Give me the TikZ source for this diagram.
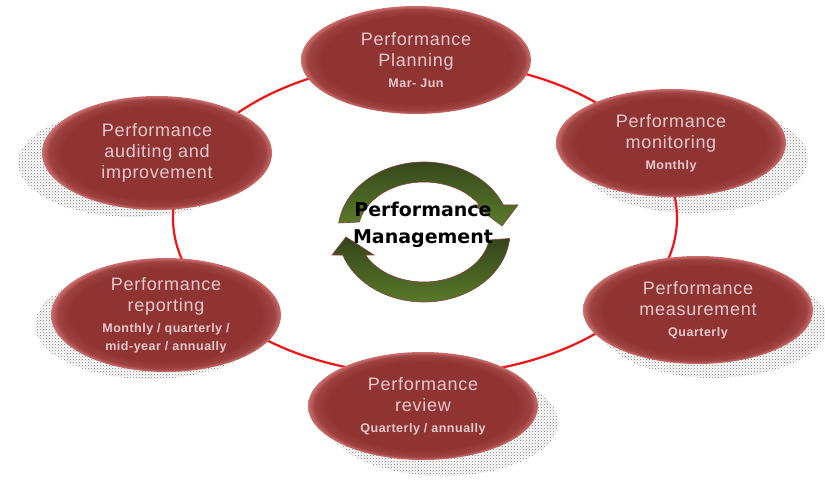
\documentclass[tikz,border=0pt]{standalone}
\usepackage{fontspec}
\usetikzlibrary{shapes.geometric,patterns,backgrounds}
\setmainfont{Liberation Sans}
\newfontfamily\stagefont[LetterSpace=4]{Liberation Sans}
\newfontfamily\hubfont{DejaVu Sans}

\definecolor{stagefill}{HTML}{8F3433}
\definecolor{stagerim}{HTML}{CC6E6C}
\definecolor{stagetext}{HTML}{E8CACA}
\definecolor{ringred}{HTML}{F01414}
\definecolor{olivedark}{HTML}{34441B}
\definecolor{olivelight}{HTML}{5A7C2A}
\definecolor{arrowedge}{HTML}{8A3C3C}

% bevelled look of the stage ellipses
\pgfdeclareradialshading{stagebevel}{\pgfpoint{0bp}{0bp}}{color(0bp)=(stagefill); color(20.5bp)=(stagefill); color(23.5bp)=(stagefill!75!stagerim); color(25bp)=(stagerim); color(50bp)=(stagerim)}

\newcommand{\period}[1]{{\fontsize{12.5}{15}\selectfont\bfseries #1}}

\tikzset{
	stage/.style={ellipse, shade, shading=stagebevel, minimum width=230, minimum height=108, inner sep=0pt, text=stagetext, align=center, font=\stagefont\fontsize{18}{21}\selectfont},
	shadowdots/.style={pattern=crosshatch dots, pattern color=black!55},
	ring/.style={draw=ringred, line width=2.2pt},
	cyclearrow/.style={top color=olivedark, bottom color=olivelight, draw=arrowedge, line width=0.6pt},
}

\begin{document}
\begin{tikzpicture}[x=1pt, y=1pt]
	\useasboundingbox (0,0) rectangle (825,484);

	% Stages of the cycle
	\node[stage] (plan) at (416,424) {Performance\\Planning\\\period{Mar- Jun}};
	\node[stage] (monitor) at (671,341) {Performance\\monitoring\\\period{Monthly}};
	\node[stage] (measure) at (698,174) {Performance\\measurement\\\period{Quarterly}};
	\node[stage] (review) at (423,78) {Performance\\review\\\period{Quarterly / annually}};
	\node[stage, minimum height=114] (report) at (166,169) {Performance\\reporting\\\period{Monthly / quarterly /}\\[-3pt]\period{mid-year / annually}};
	\node[stage, minimum height=114] (audit) at (157,331) {Performance\\auditing and\\improvement};

	% Shadows and the ring behind the stages
	\begin{pgfonlayer}{background}
		\foreach \n/\dx/\dy in {monitor/22/-16, measure/16/-14, review/20/-16, report/-16/-10, audit/-24/-10}
			\fill[shadowdots] ([shift={(\dx,\dy)}]\n.center) ellipse [x radius=115, y radius=54];
		\coordinate (ringc) at (425,266);
		\draw[ring] (ringc) ellipse [x radius=252, y radius=157];
	\end{pgfonlayer}

	% Two arrows chasing each other round the hub
	\begin{scope}[shift={(424,252)}]
		\path[cyclearrow] (172.6:86 and 70) arc[start angle=172.6, end angle=22.7, x radius=86, y radius=70]
			-- (94,27) -- (78,6) -- (50,27) -- (32.7:66 and 50)
			arc[start angle=32.7, end angle=168.5, x radius=66, y radius=50] -- cycle;
		\path[cyclearrow] (-5.3:86 and 70) arc[start angle=-5.3, end angle=-160.8, x radius=86, y radius=70]
			-- (-92,-23) -- (-78,-5) -- (-50,-23) -- (-152.6:66 and 50)
			arc[start angle=-152.6, end angle=-9.2, x radius=66, y radius=50] -- cycle;
	\end{scope}
	\node[font=\hubfont\bfseries\fontsize{19}{27}\selectfont, align=center] (hub) at (423,259) {Performance\\Management};
\end{tikzpicture}
\end{document}
